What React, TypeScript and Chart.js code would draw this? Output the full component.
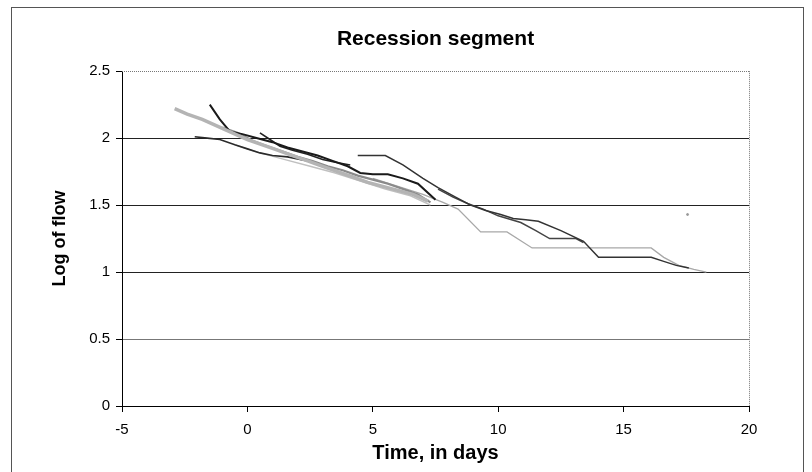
import React, { useEffect, useRef } from "react";
import { Chart, registerables } from "chart.js";
Chart.register(...registerables);

const chartTitle = "Recession segment";
const xTitle = "Time, in days";
const yTitle = "Log of flow";
const xTicks = [-5, 0, 5, 10, 15, 20];
const yTicks = [0, 0.5, 1, 1.5, 2, 2.5];

// Recession segments: time (days) and log of flow
const s1X = [-2.9, -2.4, -1.8, -1.2, -0.6, 0, 0.6, 1.2, 1.8, 2.4, 3, 3.6, 4.2, 4.8, 5.4, 6, 6.6, 7.2];
const s1Y = [2.22, 2.18, 2.14, 2.09, 2.04, 1.99, 1.95, 1.91, 1.87, 1.83, 1.79, 1.75, 1.71, 1.67, 1.64, 1.61, 1.58, 1.53];
const s2X = [-1.5, -1.1, -0.7, -0.2, 0.4, 1.0, 1.6, 2.2, 2.8, 3.4, 4.0, 4.5, 5.0, 5.6, 6.2, 6.8, 7.5];
const s2Y = [2.25, 2.14, 2.05, 2.03, 2.0, 1.97, 1.93, 1.9, 1.87, 1.83, 1.79, 1.74, 1.73, 1.73, 1.7, 1.66, 1.54];
const s3X = [-2.1, -1.6, -1.1, -0.5, 0, 0.5, 1.0, 1.6, 2.4];
const s3Y = [2.01, 2.0, 1.99, 1.95, 1.92, 1.89, 1.87, 1.86, 1.83];
const s4X = [0.5, 0.9, 1.3, 1.8, 2.4, 3.0, 3.5, 4.1];
const s4Y = [2.04, 1.99, 1.94, 1.91, 1.88, 1.84, 1.82, 1.8];
const s5X = [-1.0, -0.4, 0.2, 0.8, 1.4, 2.0, 2.6, 3.2, 3.8, 4.4, 5.0, 5.6, 6.2, 6.8, 7.3];
const s5Y = [2.08, 2.04, 1.98, 1.94, 1.9, 1.86, 1.83, 1.79, 1.76, 1.72, 1.69, 1.66, 1.62, 1.58, 1.52];
const s6X = [-0.5, 0.5, 1.5, 2.5, 3.5, 4.5, 5.5, 6.5, 7.3];
const s6Y = [1.95, 1.89, 1.84, 1.79, 1.74, 1.68, 1.62, 1.57, 1.5];
const s7X = [4.4, 5.5, 6.2, 7.0, 7.6, 8.3, 8.9, 9.5, 10.1, 10.6, 11.1, 11.6, 12.5, 13.4, 14.0, 16.1, 16.6, 17.1, 17.6];
const s7Y = [1.87, 1.87, 1.8, 1.7, 1.63, 1.56, 1.5, 1.46, 1.43, 1.4, 1.39, 1.38, 1.31, 1.23, 1.11, 1.11, 1.08, 1.05, 1.03];
const s8X = [7.6, 8.2, 8.8, 9.4, 10.0, 10.9, 11.5, 12.05, 13.1, 13.4];
const s8Y = [1.62, 1.56, 1.51, 1.47, 1.42, 1.37, 1.31, 1.25, 1.25, 1.22];
const s9X = [5.0, 6.0, 7.0, 7.8, 8.4, 9.3, 10.35, 11.35, 16.1, 16.6, 17.2, 17.8, 18.3];
const s9Y = [1.7, 1.64, 1.58, 1.52, 1.47, 1.3, 1.3, 1.18, 1.18, 1.11, 1.05, 1.02, 1.0];
const s10X = [17.55];
const s10Y = [1.43];

const seriesX = [s1X, s2X, s3X, s4X, s5X, s6X, s7X, s8X, s9X, s10X];
const seriesY = [s1Y, s2Y, s3Y, s4Y, s5Y, s6Y, s7Y, s8Y, s9Y, s10Y];
const seriesColors = ["#b4b4b4", "#1a1a1a", "#2a2a2a", "#222222", "#8a8a8a", "#c0c0c0", "#333333", "#444444", "#a8a8a8", "#999999"];
const seriesWidths = [3.5, 2, 1.6, 1.6, 2.2, 1.4, 1.5, 1.5, 1.3, 1];

const FONT = "'Liberation Sans', Arial, sans-serif";

const framePlugin = {
  id: "frame",
  beforeDraw(chart: any) {
    const ctx = chart.ctx;
    ctx.save();
    ctx.fillStyle = "#fff";
    ctx.fillRect(0, 0, chart.width, chart.height);
    ctx.strokeStyle = "#555";
    ctx.lineWidth = 1;
    ctx.strokeRect(11.5, 7.5, 792, 480);
    ctx.restore();
  },
  afterDraw(chart: any) {
    const { ctx, chartArea } = chart;
    ctx.save();
    ctx.strokeStyle = "#777";
    ctx.lineWidth = 1;
    ctx.setLineDash([1, 1]);
    ctx.beginPath();
    ctx.moveTo(chartArea.left, Math.round(chartArea.top) + 0.5);
    ctx.lineTo(chartArea.right, Math.round(chartArea.top) + 0.5);
    ctx.moveTo(Math.round(chartArea.right) + 0.5, chartArea.top);
    ctx.lineTo(Math.round(chartArea.right) + 0.5, chartArea.bottom);
    ctx.stroke();
    ctx.restore();
  },
};

export default function App() {
  const ref = useRef<HTMLCanvasElement>(null);
  useEffect(() => {
    if (!ref.current) return;
    const datasets = seriesX.map((xs, i) => ({
      data: xs.map((x, j) => ({ x, y: seriesY[i][j] })),
      borderColor: seriesColors[i],
      backgroundColor: seriesColors[i],
      borderWidth: seriesWidths[i],
      pointRadius: xs.length === 1 ? 1 : 0,
      tension: 0,
      showLine: xs.length > 1,
      fill: false,
    }));
    const chart = new Chart(ref.current, {
      type: "line",
      data: { datasets },
      plugins: [framePlugin],
      options: {
        animation: false,
        responsive: false,
        events: [],
        layout: { padding: { left: 0, right: 63, top: 0, bottom: 0 } },
        plugins: {
          legend: { display: false },
          tooltip: { enabled: false },
          title: {
            display: true,
            text: chartTitle,
            fullSize: false,
            color: "#000",
            font: { family: FONT, size: 21, weight: "bold" },
            padding: { top: 27, bottom: 19 },
          },
        },
        scales: {
          x: {
            type: "linear",
            min: -5,
            max: 20,
            afterBuildTicks: (s: any) => { s.ticks = xTicks.map((v) => ({ value: v })); },
            afterFit: (s: any) => { s.height = 66; },
            ticks: { color: "#000", padding: 9, font: { family: FONT, size: 15 }, callback: (v: any) => String(v) },
            grid: { drawOnChartArea: false, drawTicks: true, tickLength: 6, color: "#000", tickColor: "#000" },
            border: { display: true, color: "#000", width: 1 },
            title: { display: true, text: xTitle, color: "#000", font: { family: FONT, size: 20, weight: "bold" }, padding: { top: 0, bottom: 7 } },
          },
          y: {
            type: "linear",
            min: 0,
            max: 2.5,
            afterBuildTicks: (s: any) => { s.ticks = yTicks.map((v) => ({ value: v })); },
            afterFit: (s: any) => { s.width = 122; },
            ticks: { color: "#000", padding: 6, font: { family: FONT, size: 15 }, callback: (v: any) => String(v) },
            grid: {
              tickLength: 6,
              tickColor: "#000",
              lineWidth: 1,
              color: (c: any) => {
                const v = c.tick ? c.tick.value : null;
                if (v === 2.5) return "rgba(0,0,0,0)";
                if (v === 0.5) return "#777";
                return "#222";
              },
            },
            border: { display: true, color: "#000", width: 1 },
            title: { display: true, text: yTitle, color: "#000", font: { family: FONT, size: 18, weight: "bold" }, padding: { top: 49, bottom: 0 } },
          },
        },
      },
    } as any);
    return () => chart.destroy();
  }, []);
  return (
    <div style={{ position: "absolute", left: 0, top: 0, width: 812, height: 472 }}>
      <canvas ref={ref} width={812} height={472} />
    </div>
  );
}
